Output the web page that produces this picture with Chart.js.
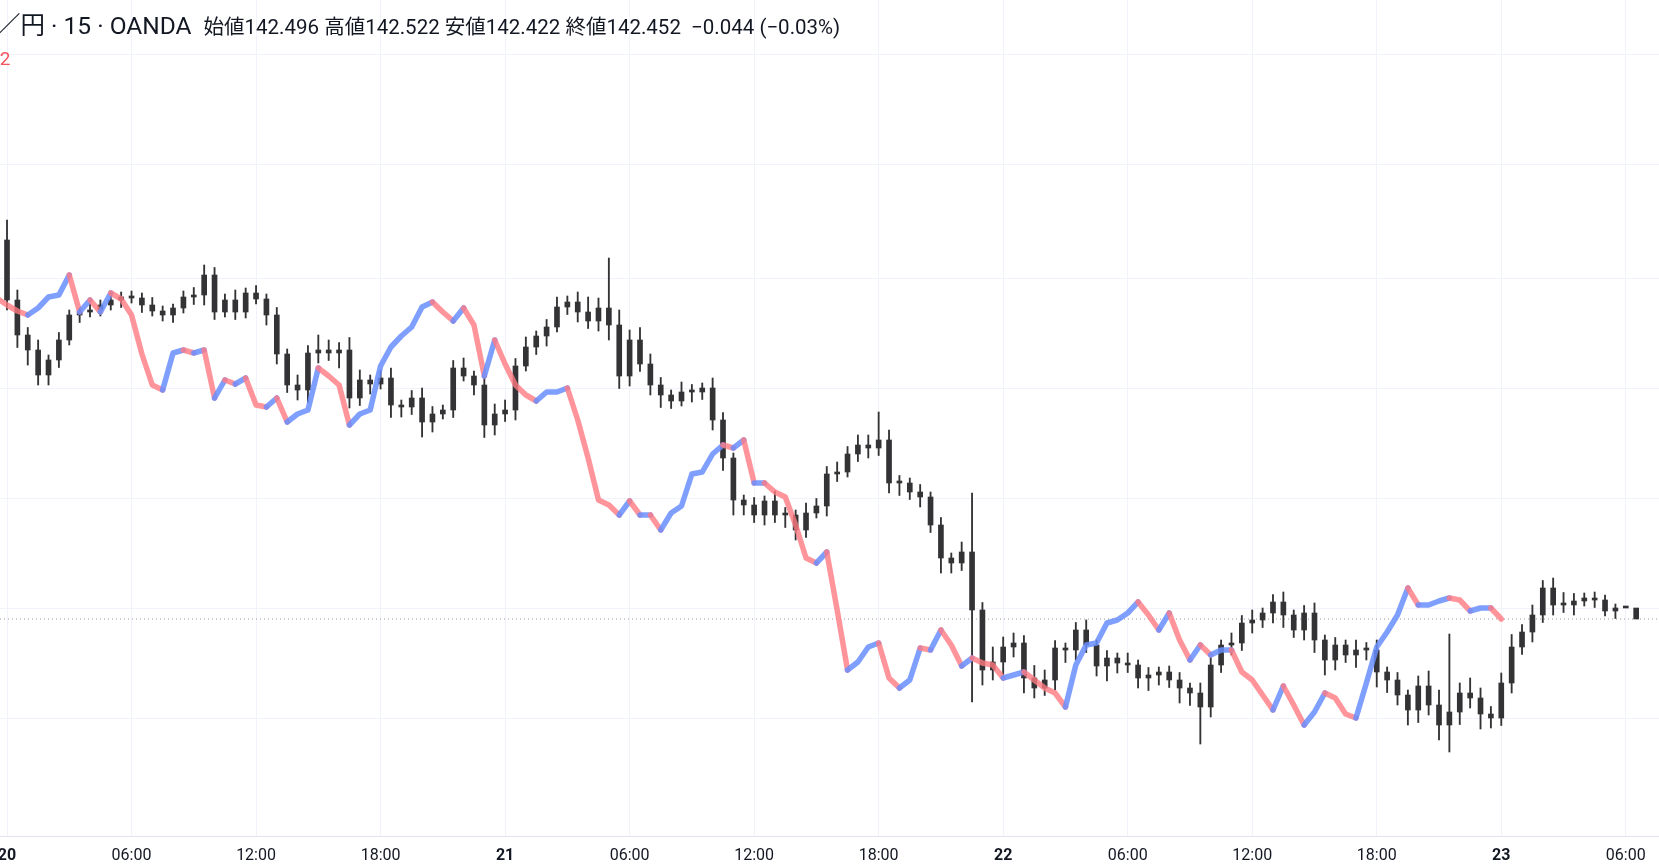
<!DOCTYPE html>
<html><head><meta charset="utf-8">
<script src="https://cdn.jsdelivr.net/npm/chart.js@4.4.1/dist/chart.umd.min.js"></script>
<style>
html,body{margin:0;padding:0;background:#fff;overflow:hidden}
#wrap{position:relative;width:1659px;height:868px}
#hdr{position:absolute;left:0;top:6px;font-family:Roboto,"Noto Sans CJK JP",sans-serif;color:#131722;white-space:nowrap;z-index:2}
#hdr .t{font-size:24.5px;margin-left:-4px}
#hdr .v{font-size:20.5px;margin-left:12px}
#ind{position:absolute;left:-11px;top:47px;font:19px Roboto,sans-serif;color:#f7525f;z-index:2}
</style></head><body>
<div id="wrap">
<div id="hdr"><span class="t">／円 · 15 · OANDA</span><span class="v">始値142.496 高値142.522 安値142.422 終値142.452 &nbsp;−0.044 (−0.03%)</span></div>
<div id="ind">52</div>
<canvas id="c" width="1659" height="868"></canvas>
</div>
<script>
// 30-minute closes, 20th 00:00 → 23rd 06:30
const closes = [143.090,143.020,142.990,142.940,142.970,143.010,143.060,143.066,143.070,143.080,143.090,143.096,143.094,
143.080,143.068,143.060,143.074,143.096,143.100,143.140,143.066,143.090,143.066,143.104,143.092,143.060,142.982,142.920,
142.910,142.984,142.990,142.984,142.990,142.894,142.930,142.922,142.934,142.880,142.876,142.894,142.846,142.862,142.870,
142.954,142.938,142.920,142.840,142.862,142.870,142.958,142.996,143.018,143.036,143.076,143.086,143.066,143.048,143.074,
143.040,142.938,143.010,142.962,142.920,142.900,142.888,142.906,142.906,142.914,142.850,142.774,142.690,142.680,142.660,
142.688,142.660,142.660,142.630,142.664,142.678,142.742,142.746,142.782,142.800,142.794,142.810,142.724,142.724,142.706,
142.696,142.640,142.574,142.564,142.586,142.470,142.350,142.366,142.396,142.404,142.334,142.314,142.330,142.394,142.390,
142.430,142.400,142.358,142.374,142.364,142.360,142.334,142.340,142.346,142.330,142.314,142.304,142.276,142.360,142.400,
142.404,142.444,142.450,142.464,142.486,142.460,142.430,142.464,142.410,142.370,142.400,142.380,142.390,142.390,142.346,
142.330,142.300,142.270,142.318,142.280,142.240,142.266,142.304,142.294,142.262,142.254,142.324,142.396,142.426,142.460,
142.514,142.480,142.480,142.488,142.494,142.490,142.468,142.474,142.474,142.452];
const firstOpen = 143.210;
const wickUp = [0.040,0.020,0.015,0.020,0.010,0.015,0.010,0.008,0.012,0.010,0.015,0.010,0.012,0.010,0.015,0.010,0.008,0.012,0.015,0.020,0.015,0.012,0.020,0.010,0.015,0.010,0.015,0.010,
0.020,0.015,0.030,0.020,0.015,0.025,0.020,0.010,0.015,0.020,0.010,0.015,0.020,0.015,0.010,0.015,0.020,0.010,0.015,0.020,0.020,0.015,0.020,0.010,0.015,0.020,0.012,0.020,0.030,0.020,
0.100,0.030,0.020,0.025,0.020,0.015,0.010,0.020,0.015,0.010,0.020,0.015,0.010,0.010,0.015,0.010,0.020,0.015,0.010,0.020,0.015,0.015,0.020,0.015,0.020,0.020,0.056,0.020,0.015,0.010,
0.015,0.010,0.015,0.010,0.020,0.118,0.015,0.030,0.020,0.020,0.015,0.025,0.020,0.015,0.010,0.015,0.020,0.010,0.015,0.010,0.020,0.010,0.015,0.010,0.012,0.015,0.010,0.020,0.015,0.010,
0.020,0.015,0.020,0.010,0.015,0.020,0.010,0.015,0.020,0.010,0.015,0.010,0.020,0.015,0.020,0.010,0.015,0.010,0.020,0.030,0.030,0.156,0.020,0.030,0.020,0.015,0.020,0.025,0.015,0.020,
0.015,0.020,0.025,0.015,0.010,0.012,0.010,0.008];
const wickDown = [0.020,0.025,0.030,0.020,0.020,0.015,0.010,0.015,0.010,0.012,0.010,0.015,0.010,0.015,0.010,0.012,0.015,0.010,0.015,0.020,0.015,0.010,0.015,0.012,0.010,0.020,0.020,0.015,
0.020,0.025,0.020,0.015,0.030,0.020,0.015,0.020,0.010,0.025,0.020,0.015,0.030,0.020,0.010,0.015,0.010,0.020,0.025,0.020,0.015,0.020,0.010,0.015,0.020,0.010,0.015,0.020,0.015,0.020,
0.030,0.025,0.020,0.015,0.020,0.025,0.015,0.010,0.020,0.015,0.020,0.025,0.030,0.020,0.015,0.020,0.015,0.025,0.020,0.015,0.010,0.020,0.015,0.010,0.015,0.020,0.015,0.020,0.025,0.015,
0.020,0.015,0.030,0.020,0.015,0.184,0.030,0.020,0.025,0.020,0.030,0.020,0.015,0.020,0.025,0.020,0.015,0.020,0.030,0.020,0.015,0.020,0.025,0.020,0.015,0.030,0.025,0.074,0.020,0.015,
0.020,0.015,0.020,0.015,0.020,0.025,0.015,0.020,0.025,0.030,0.020,0.015,0.025,0.020,0.030,0.025,0.020,0.030,0.025,0.020,0.030,0.054,0.025,0.020,0.030,0.020,0.015,0.020,0.015,0.020,
0.015,0.020,0.015,0.020,0.010,0.015,0.010,0.015];
const lagShift = 13; // lagging span: 26 fifteen-minute periods
const gridVals = [143.580,143.360,143.132,142.912,142.692,142.472,142.252];
const tickIdx = [0,12,24,36,48,60,72,84,96,108,120,132,144,156];
const tickLabels = ['20','06:00','12:00','18:00','21','06:00','12:00','18:00','22','06:00','12:00','18:00','23','06:00'];

const opens = closes.map((c,i)=> i===0 ? firstOpen : closes[i-1]);
const bodies = closes.map((c,i)=>({x:i,y:[opens[i],c]}));
const wicks = closes.map((c,i)=>({x:i,y:[Math.min(opens[i],c)-wickDown[i], Math.max(opens[i],c)+wickUp[i]]}));
const lag = closes.map((c,i)=>({x:i-lagShift,y:c}));
const last = closes[closes.length-1];
const BLUE='rgba(104,142,255,0.85)', RED='rgba(255,122,130,0.8)';
const xmin=-0.675, xmax=159.2;

new Chart(document.getElementById('c'),{
  data:{datasets:[
    {type:'line',data:[{x:xmin,y:last},{x:xmax,y:last}],borderColor:'#9598a1',borderWidth:1,borderDash:[1,3],pointRadius:0,order:3},
    {type:'line',data:lag,borderWidth:5.5,pointRadius:0,tension:0,order:0,borderJoinStyle:'round',borderCapStyle:'round',
      segment:{borderColor:ctx=> ctx.p1.parsed.y>=ctx.p0.parsed.y ? BLUE : RED}},
    {type:'bar',data:bodies,backgroundColor:'#333336',borderColor:'#333336',barThickness:5,minBarLength:2,grouped:false,order:1},
    {type:'bar',data:wicks,backgroundColor:'#333336',barThickness:1.2,grouped:false,order:2}
  ]},
  options:{
    responsive:false,animation:false,
    layout:{padding:0},
    plugins:{legend:{display:false},tooltip:{enabled:false}},
    scales:{
      x:{type:'linear',min:xmin,max:xmax,offset:false,
        afterBuildTicks:s=>{s.ticks=tickIdx.map(v=>({value:v}));},
        afterFit:s=>{s.height=32;s.paddingLeft=0;s.paddingRight=0;},
        grid:{color:'#f0f3fa',drawTicks:false,offset:false},
        border:{display:true,color:'#e0e3eb'},
        ticks:{padding:10,maxRotation:0,autoSkip:false,color:'#131722',
          callback:(v,i)=>tickLabels[i],
          font:ctx=>({family:'Roboto',size:16,weight: (ctx.tick && tickLabels[ctx.index] && tickLabels[ctx.index].length===2)?'bold':'normal'})}},
      y:{type:'linear',min:142.018,max:143.690,
        afterBuildTicks:s=>{s.ticks=gridVals.map(v=>({value:v}));},
        afterFit:s=>{s.width=0;},
        grid:{color:'#f0f3fa',drawTicks:false},
        border:{display:false},
        ticks:{display:false}}
    }
  }
});
</script>
</body></html>
